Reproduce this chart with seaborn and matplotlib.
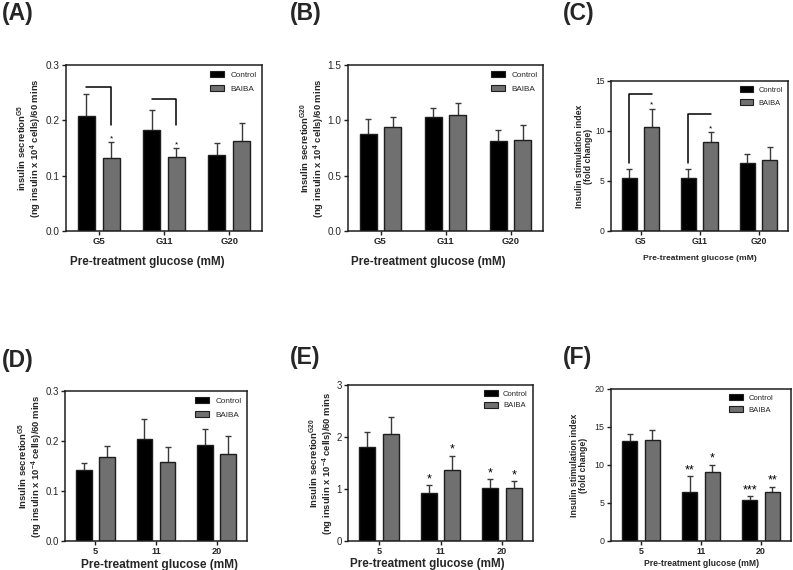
import pandas as pd                      # таблиці для seaborn
import matplotlib
matplotlib.use("Agg")
import matplotlib.pyplot as plt
from matplotlib.patches import Patch
import seaborn as sns

# --- дані (середнє та SEM) ---
cats_g = ["G5", "G11", "G20"]
cats_n = ["5", "11", "20"]
groups = ["Control", "BAIBA"]

a_ctrl = [0.207, 0.182, 0.138]
a_ctrl_sem = [0.040, 0.036, 0.021]
a_baiba = [0.132, 0.134, 0.162]
a_baiba_sem = [0.029, 0.016, 0.034]

b_ctrl = [0.880, 1.028, 0.810]
b_ctrl_sem = [0.130, 0.082, 0.103]
b_baiba = [0.937, 1.046, 0.826]
b_baiba_sem = [0.091, 0.112, 0.130]

c_ctrl = [5.27, 5.27, 6.78]
c_ctrl_sem = [0.90, 0.90, 0.90]
c_baiba = [10.40, 8.87, 7.08]
c_baiba_sem = [1.83, 1.03, 1.28]

d_ctrl = [0.142, 0.205, 0.193]
d_ctrl_sem = [0.014, 0.039, 0.032]
d_baiba = [0.169, 0.159, 0.175]
d_baiba_sem = [0.022, 0.030, 0.035]

e_ctrl = [1.80, 0.92, 1.01]
e_ctrl_sem = [0.29, 0.15, 0.18]
e_baiba = [2.06, 1.36, 1.02]
e_baiba_sem = [0.33, 0.28, 0.13]

f_ctrl = [13.16, 6.49, 5.39]
f_ctrl_sem = [0.96, 2.00, 0.50]
f_baiba = [13.25, 9.04, 6.40]
f_baiba_sem = [1.30, 1.00, 0.75]

# значущість
a_stars = (["", "", ""], ["*", "*", ""])
c_stars = (["", "", ""], ["*", "*", ""])
e_stars = (["", "*", "*"], ["", "*", "*"])
f_stars = (["", "**", "***"], ["", "*", "**"])

# --- стиль ---
sns.set_style("ticks")
plt.rcParams["font.family"] = ["Liberation Sans", "DejaVu Sans"]
plt.rcParams["mathtext.fontset"] = "custom"
plt.rcParams["mathtext.rm"] = "Liberation Sans"
plt.rcParams["mathtext.bf"] = "Liberation Sans:bold"
plt.rcParams["mathtext.default"] = "bf"

GRAY = "#707070"
EDGE = "#1e1e1e"
ERR = "#3a3a3a"
palette = {"Control": "black", "BAIBA": GRAY}

W, H = 793, 570
fig = plt.figure(figsize=(W / 100, H / 100), dpi=100)


def rect(l, t, r, b):
    return [l / W, 1 - b / H, (r - l) / W, (b - t) / H]


def panel(ax, cats, ctrl, ctrl_sem, baiba, baiba_sem, ymax, ystep, yfmt,
          ylabel, st, stars=None):
    df = pd.DataFrame({"glucose": cats * 2,
                       "group": [groups[0]] * 3 + [groups[1]] * 3,
                       "value": ctrl + baiba})
    sns.barplot(data=df, x="glucose", y="value", hue="group", order=cats,
                hue_order=groups, palette=palette, width=0.76, gap=0.32,
                edgecolor=EDGE, linewidth=1.0, errorbar=None, legend=False,
                ax=ax, zorder=2)
    centers = {}
    for p in ax.patches:
        cx = p.get_x() + p.get_width() / 2
        i = int(round(cx))
        centers[(i, 0 if cx < i else 1)] = cx
    for h, (vals, sems) in enumerate([(ctrl, ctrl_sem), (baiba, baiba_sem)]):
        xs = [centers[(i, h)] for i in range(3)]
        ax.errorbar(xs, vals, yerr=sems, fmt="none", ecolor=ERR,
                    elinewidth=1.0, capsize=2.2, capthick=1.0, zorder=1)
        if stars is not None:
            for i in range(3):
                if stars[h][i]:
                    ax.text(xs[i], vals[i] + sems[i] + st["star_off"] * ymax,
                            stars[h][i], ha="center", va="bottom",
                            fontsize=st["star"], color="black")

    ax.set_xlim(-0.5, 2.5)
    ax.set_ylim(0, ymax)
    ticks = [ystep * k for k in range(int(round(ymax / ystep)) + 1)]
    ax.set_yticks(ticks)
    ax.set_yticklabels([yfmt.format(t) for t in ticks], fontsize=st["ytick"])
    ax.set_xticks(range(3))
    ax.set_xticklabels(cats, fontsize=st["xtick"], fontweight="bold")
    ax.tick_params(axis="both", direction="out", length=3, width=1.0,
                   color=EDGE, pad=1.5)
    for s in ax.spines.values():
        s.set_linewidth(1.1)
        s.set_color(EDGE)
        s.set_visible(True)

    ax.set_xlabel("Pre-treatment glucose (mM)", fontsize=st["xlabel"],
                  fontweight="bold", labelpad=st["xpad"])
    ax.xaxis.label.set_x(st["xlx"])
    ax.set_ylabel(ylabel, fontsize=st["ylabel"], fontweight="bold",
                  linespacing=0.95)
    bb = ax.get_position()
    ax.yaxis.set_label_coords(st["ylx"] / (bb.width * W), 0.5)

    handles = [Patch(facecolor="black", edgecolor=EDGE, linewidth=0.8),
               Patch(facecolor=GRAY, edgecolor=EDGE, linewidth=0.8)]
    ax.legend(handles, groups, loc="upper right", frameon=False,
              bbox_to_anchor=(st["lbx"], 1.0),
              fontsize=st["legend"], handlelength=1.8, handleheight=0.8,
              handletextpad=0.7, labelspacing=st["lspace"],
              borderaxespad=0.3)
    return centers


big = dict(ytick=7.2, xtick=6.8, xlabel=8.4, ylabel=6.8, legend=5.9,
           lspace=0.75, star=6, star_off=0.0, xpad=7, ylx=-22, xlx=0.413,
           lbx=1.0)
small = dict(ytick=6.2, xtick=6.2, xlabel=6.1, ylabel=6.3, legend=5.4,
             lspace=0.75, star=6, star_off=0.0, xpad=6, ylx=-18, xlx=0.5,
             lbx=1.0)

# --- (A) ---
axA = fig.add_axes(rect(66, 65, 262, 231))
cA = panel(axA, cats_g, a_ctrl, a_ctrl_sem, a_baiba, a_baiba_sem, 0.3, 0.1,
           "{:.1f}", "insulin secretion$^{G5}$\n(ng insulin x 10$^{4}$ cells)/60 mins",
           big, a_stars)
a_br_top = [0.260, 0.239]
a_br_end = [0.192, 0.192]
for i in range(2):
    x0, x1 = cA[(i, 0)], cA[(i, 1)]
    axA.plot([x0, x1, x1], [a_br_top[i], a_br_top[i], a_br_end[i]],
             color="black", lw=1.1, zorder=3)

# --- (B) ---
axB = fig.add_axes(rect(348, 65, 543, 231))
panel(axB, cats_g, b_ctrl, b_ctrl_sem, b_baiba, b_baiba_sem, 1.5, 0.5,
      "{:.1f}", "Insulin secretion$^{G20}$\n(ng insulin x 10$^{4}$ cells)/60 mins",
      dict(big, ylx=-21, xlx=0.41))

# --- (C) ---
axC = fig.add_axes(rect(611, 81, 788, 231))
cC = panel(axC, cats_g, c_ctrl, c_ctrl_sem, c_baiba, c_baiba_sem, 15, 5,
           "{:.0f}", "Insulin stimulation index\n(fold change)", small, c_stars)
c_br_top = [13.67, 11.73]
c_br_start = [6.83, 6.83]
for i in range(2):
    x0, x1 = cC[(i, 0)], cC[(i, 1)]
    axC.plot([x0, x0, x1], [c_br_start[i], c_br_top[i], c_br_top[i]],
             color="black", lw=1.1, zorder=3)

# --- (D) ---
stD = dict(big, xlabel=8.6, xpad=2.0, ylx=-20, ytick=6.9, xtick=6.6, xlx=0.52)
axD = fig.add_axes(rect(65, 391, 247, 541))
panel(axD, cats_n, d_ctrl, d_ctrl_sem, d_baiba, d_baiba_sem, 0.3, 0.1,
      "{:.1f}", "Insulin secretion$^{G5}$\n(ng insulin x 10$^{-4}$ cells)/60 mins",
      stD)

# --- (E) ---
stE = dict(big, xlabel=8.4, xpad=1.5, ylx=-12, ytick=6.9, xtick=6.6,
           star=9, lspace=0.5, legend=5.5, xlx=0.427)
axE = fig.add_axes(rect(348, 385, 533, 541))
panel(axE, cats_n, e_ctrl, e_ctrl_sem, e_baiba, e_baiba_sem, 3, 1,
      "{:.0f}", "Insulin secretion$^{G20}$\n(ng insulin x 10$^{-4}$ cells)/60 mins",
      stE, e_stars)

# --- (F) ---
stF = dict(small, xlabel=6.2, xpad=2, ylx=-23, ytick=6.4, xtick=6.4,
           star=9, lspace=0.55, legend=5.5, lbx=0.93)
axF = fig.add_axes(rect(611, 389, 791, 541))
panel(axF, cats_n, f_ctrl, f_ctrl_sem, f_baiba, f_baiba_sem, 20, 5,
      "{:.0f}", "Insulin stimulation index\n(fold change)", stF, f_stars)

# --- підписи панелей ---
for lbl, x, y in [("(A)", 2, 2), ("(B)", 290, 2), ("(C)", 563, 2),
                  ("(D)", 2, 349), ("(E)", 290, 346), ("(F)", 563, 346)]:
    fig.text(x / W, 1 - y / H, lbl, fontsize=16.5, fontweight="bold",
             va="top", ha="left")

fig.savefig("out.png", dpi=100)
